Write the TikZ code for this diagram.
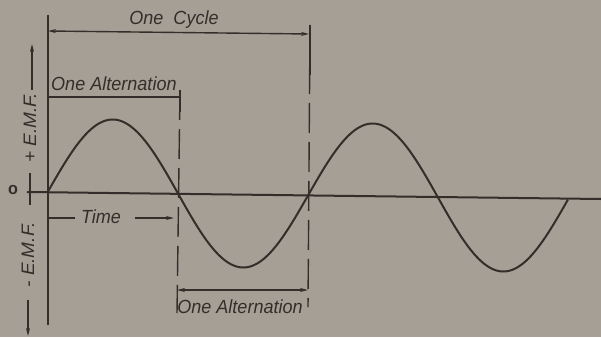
\documentclass[tikz,border=0pt]{standalone}
\usepackage{fontspec}
\setmainfont{Liberation Sans}
\usetikzlibrary{arrows.meta}
\definecolor{bg}{RGB}{166,159,150}
\definecolor{ink}{RGB}{52,46,42}
\begin{document}
\begin{tikzpicture}[x=1pt,y=-1pt,
  ink/.style={draw=ink,line width=1.4pt},
  thick ink/.style={draw=ink,line width=2.4pt},
  dashline/.style={draw=ink,line width=1.4pt,dash pattern=on 30pt off 9pt},
  arr/.style={-{Stealth[length=8pt,width=4pt]}},
  lbl/.style={text=ink,font=\fontsize{19}{19}\selectfont\itshape,inner sep=0pt,xscale=0.95}]
\fill[bg] (0,0) rectangle (601,337);
\useasboundingbox (0,0) rectangle (601,337);
% coordinates
\coordinate (vtop) at (48,15);
\coordinate (vbot) at (48,325);
\coordinate (hl) at (27,192);
\coordinate (hr) at (601,199);
\coordinate (cycL) at (48,31);
\coordinate (cycR) at (309,34);
\coordinate (altL) at (48,97);
\coordinate (altR) at (180,97);
\coordinate (d1t) at (180,90);
\coordinate (d1b) at (177,313);
\coordinate (d2t) at (310,25);
\coordinate (d2b) at (308,307);
\coordinate (balL) at (177,290);
\coordinate (balR) at (308,290);
\coordinate (tL) at (48,218);
\coordinate (tM) at (75,218);
\coordinate (taS) at (135,218);
\coordinate (taE) at (174,218);
\coordinate (uaS) at (32,90);
\coordinate (uaE) at (32,44);
\coordinate (tkT) at (30,173);
\coordinate (tkB) at (30,205);
\coordinate (daS) at (28,300);
\coordinate (daE) at (28,336);
% axes
\draw[thick ink] (vtop) -- (vbot);
\draw[draw=ink,line width=2pt] (hl) -- (hr);
% sine wave
\draw[draw=ink,line width=2pt,line join=round]
  plot[domain=48:568,samples=240] (\x,{191.5+0.0154*(\x-48)-73*sin((\x-48)/130*180)});
% dashed verticals
\draw[ink] (d1t) -- ++(0,22);
\draw[dashline] (d1t) -- (d1b);
\draw[ink] (d2t) -- ++(0,50);
\draw[dashline] (d2t) -- (d2b);
% brackets
\draw[ink,{Stealth[length=8pt,width=4pt]}-{Stealth[length=8pt,width=4pt]}] (cycL) -- (cycR);
\draw[ink] (altL) -- (altR);
\draw[ink,{Stealth[length=8pt,width=4pt]}-{Stealth[length=8pt,width=4pt]}] (balL) -- (balR);
% time
\draw[ink] (tL) -- (tM);
\draw[ink,arr] (taS) -- (taE);
% left side
\draw[ink,arr] (uaS) -- (uaE);
\draw[ink] (tkT) -- (tkB);
\draw[ink,arr] (daS) -- (daE);
% labels
\node[lbl] (cyc) at (174,20) {One\ \ Cycle};
\node[lbl,anchor=base west] (alt1) at (51,90) {One Alternation};
\node[lbl] (time) at (101,217) {Time};
\node[lbl] (alt2) at (240,307) {One Alternation};
\node[lbl,rotate=90] (pemf) at (30,128) {+ E.M.F.};
\node[lbl,rotate=90] (nemf) at (28,255) {- E.M.F.};
\node[lbl,font=\fontsize{17}{17}\selectfont\bfseries] (zero) at (13,190) {o};
\end{tikzpicture}
\end{document}
